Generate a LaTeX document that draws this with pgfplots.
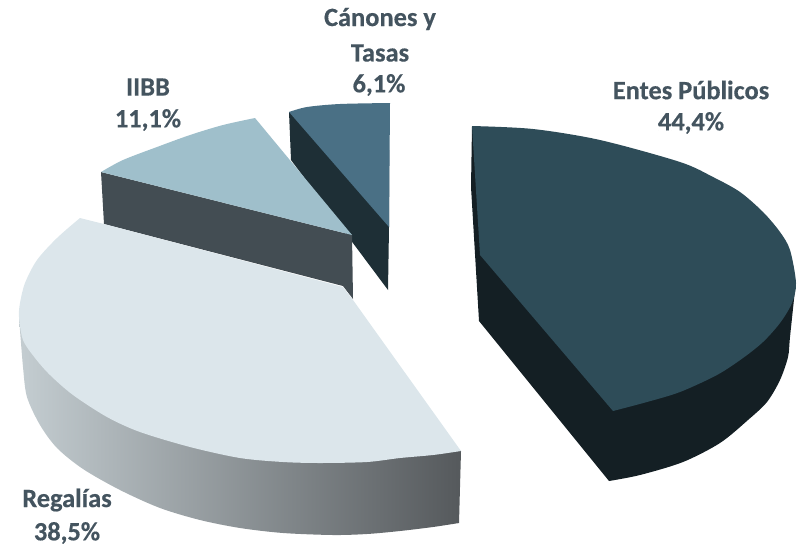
\documentclass[border=0pt]{standalone}
\usepackage{pgfplots}
\pgfplotsset{compat=1.18}
\usepackage{fontspec}
\setmainfont{Carlito}[BoldFeatures={FakeBold=0.4}]
\definecolor{txt}{HTML}{44545F}
\definecolor{entestop}{HTML}{2E4C58}
\definecolor{entesside}{HTML}{141F24}
\definecolor{regtop}{HTML}{DCE6EB}
\definecolor{regleft}{HTML}{C4CDD1}
\definecolor{regright}{HTML}{55595C}
\definecolor{iibbtop}{HTML}{9FBFCB}
\definecolor{iibbside}{HTML}{434D53}
\definecolor{cantop}{HTML}{4A7085}
\definecolor{canside}{HTML}{1E2F36}
\tikzset{lbl/.style={font=\fontsize{26.4}{30}\selectfont\bfseries, text=txt, inner sep=0pt, anchor=center}}
\begin{document}
\begin{tikzpicture}
\begin{axis}[
    width=802pt,
    height=546pt,
    scale only axis,
    hide axis,
    clip=false,
    xmin=0, xmax=802,
    ymin=0, ymax=546,
    y dir=reverse,
    every axis plot/.append style={no markers, line join=round},
]
\path (axis cs:0,0) rectangle (axis cs:802,546);

% Canones y Tasas
\addplot[fill=canside, draw=none] coordinates {
    (289,112) (291,160) (388,290) (389,227) (389,150)
} --cycle;
\addplot[fill=cantop, draw=none, smooth] coordinates {
    (289,112) (307,107) (340,104) (390,103)
} -- (axis cs:389,227) --cycle;

% IIBB
\addplot[fill=iibbside, draw=none] coordinates {
    (101,172) (104,224) (343,286) (353,299) (352,235)
} --cycle;
\addplot[fill=iibbtop, draw=none, smooth] coordinates {
    (255,118) (223,125) (190,135) (157,147) (123,160) (101,172)
} -- (axis cs:352,235) --cycle;

% Regalias
\addplot[left color=regleft, right color=regright, draw=none, smooth] coordinates {
    (19,317) (23,367) (27,397) (40,425) (57,448) (83,469) (120,490) (160,508)
    (200,520) (240,528) (283,533) (333,535) (367,534) (400,531) (433,527) (459,523)
} -- (axis cs:461,451) --cycle;
\addplot[fill=regtop, draw=none, smooth] coordinates {
    (80,218) (57,238) (37,260) (25,283) (20,303) (19,317) (23,340) (35,358) (50,375)
    (73,395) (107,417) (140,432) (190,447) (240,458) (283,462) (320,463)
    (367,462) (400,458) (433,455) (461,451)
} -- (axis cs:353,300) -- (axis cs:343,287) -- (axis cs:104,224) --cycle;

% Entes Publicos
\addplot[fill=entesside, draw=none, smooth] coordinates {
    (796,283) (795,290) (790,337) (788,357) (780,380) (767,402) (748,420) (720,443)
    (683,462) (640,475) (609,481)
} -- (axis cs:479,321) -- (axis cs:471,187) -- (axis cs:472,126) --cycle;
\addplot[fill=entestop, draw=none, smooth] coordinates {
    (472,126) (533,129) (600,140) (680,162) (713,177) (740,192) (763,212) (780,232) (790,250)
    (796,283) (792,303) (780,323) (763,342) (743,358) (717,375) (680,392) (647,402) (613,411)
} -- (axis cs:480,255) --cycle;

% etiquetas
\node[lbl] at (axis cs:691,90) {Entes Públicos};
\node[lbl] at (axis cs:691,123) {44,4\%};
\node[lbl] at (axis cs:148,87) {IIBB};
\node[lbl] at (axis cs:148,120) {11,1\%};
\node[lbl] at (axis cs:380,19) {Cánones y};
\node[lbl] at (axis cs:380,53) {Tasas};
\node[lbl] at (axis cs:379,85) {6,1\%};
\node[lbl] at (axis cs:67,500) {Regalías};
\node[lbl] at (axis cs:67,533) {38,5\%};
\end{axis}
\end{tikzpicture}
\end{document}
